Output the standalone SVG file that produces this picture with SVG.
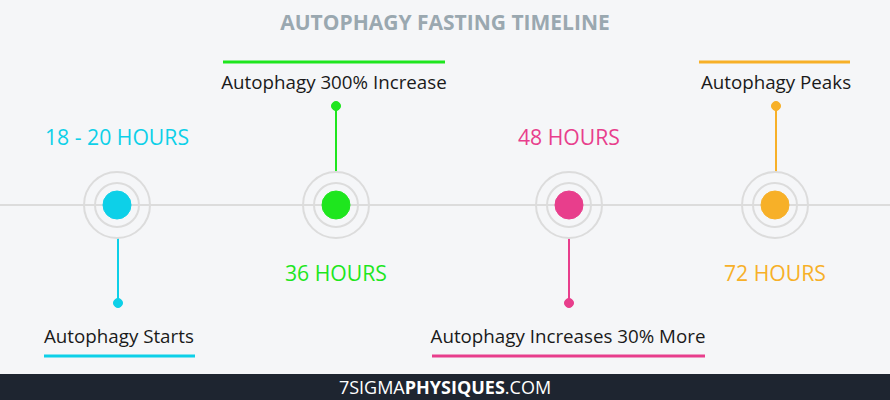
<svg xmlns="http://www.w3.org/2000/svg" width="890" height="400" viewBox="0 0 890 400">
<style>
text{font-family:"Open Sans","Noto Sans",sans-serif}
.lbl{font-size:18.75px;fill:#1a1a1a}
.hrs{font-size:21.2px}
.ring{fill:none;stroke:#dcdcdc;stroke-width:2}
.c1{fill:#0dd0e8;stroke:#0dd0e8}
.c2{fill:#1ee61e;stroke:#1ee61e}
.c3{fill:#e83e8c;stroke:#e83e8c}
.c4{fill:#f7b028;stroke:#f7b028}
</style>
<rect width="890" height="400" fill="#f5f6f8"/>
<text x="445" y="30" text-anchor="middle" font-weight="bold" fill="#9aa8b0" style="font-size:21px">AUTOPHAGY FASTING TIMELINE</text>
<g id="connectors">
<line x1="0" y1="205" x2="890" y2="205" stroke="#dcdcdc" stroke-width="2"/>
<line class="c1" x1="118" y1="238" x2="118" y2="303" stroke-width="2"/>
<circle class="c1" cx="118" cy="303" r="4.5"/>
<line class="c2" x1="336" y1="106" x2="336" y2="172" stroke-width="2"/>
<circle class="c2" cx="336" cy="106" r="4.5"/>
<line class="c3" x1="569" y1="238" x2="569" y2="303" stroke-width="2"/>
<circle class="c3" cx="569" cy="303" r="4.5"/>
<line class="c4" x1="776" y1="106" x2="776" y2="172" stroke-width="2"/>
<circle class="c4" cx="776" cy="106" r="4.5"/>
</g>
<g id="node1">
<circle cx="117" cy="205" r="33" fill="#f5f6f8" class="ring"/>
<circle cx="117" cy="205" r="22" class="ring"/>
<circle cx="117" cy="205" r="14" class="c1"/>
<text x="117" y="145" text-anchor="middle" class="hrs" fill="#0dd0e8">18 - 20 HOURS</text>
<text x="44" y="343" class="lbl">Autophagy Starts</text>
<line class="c1" x1="44" y1="356" x2="195" y2="356" stroke-width="3"/>
</g>
<g id="node2">
<circle cx="336" cy="205" r="33" fill="#f5f6f8" class="ring"/>
<circle cx="336" cy="205" r="22" class="ring"/>
<circle cx="336" cy="205" r="14" class="c2"/>
<text x="336" y="281" text-anchor="middle" class="hrs" fill="#1ee61e">36 HOURS</text>
<text x="334" y="89" text-anchor="middle" class="lbl">Autophagy 300% Increase</text>
<line class="c2" x1="223" y1="62" x2="445" y2="62" stroke-width="3"/>
</g>
<g id="node3">
<circle cx="569" cy="205" r="33" fill="#f5f6f8" class="ring"/>
<circle cx="569" cy="205" r="22" class="ring"/>
<circle cx="569" cy="205" r="14" class="c3"/>
<text x="569" y="145" text-anchor="middle" class="hrs" fill="#e83e8c">48 HOURS</text>
<text x="568" y="343" text-anchor="middle" class="lbl">Autophagy Increases 30% More</text>
<line class="c3" x1="432" y1="356" x2="705" y2="356" stroke-width="3"/>
</g>
<g id="node4">
<circle cx="775" cy="205" r="33" fill="#f5f6f8" class="ring"/>
<circle cx="775" cy="205" r="22" class="ring"/>
<circle cx="775" cy="205" r="14" class="c4"/>
<text x="775" y="281" text-anchor="middle" class="hrs" fill="#f7b028">72 HOURS</text>
<text x="776" y="89" text-anchor="middle" class="lbl">Autophagy Peaks</text>
<line class="c4" x1="699" y1="62" x2="850" y2="62" stroke-width="3"/>
</g>
<rect x="0" y="374" width="890" height="26" fill="#1e2530"/>
<text x="445" y="394" text-anchor="middle" fill="#ffffff" style="font-size:18px">7SIGMA<tspan font-weight="bold">PHYSIQUES</tspan>.COM</text>
</svg>
